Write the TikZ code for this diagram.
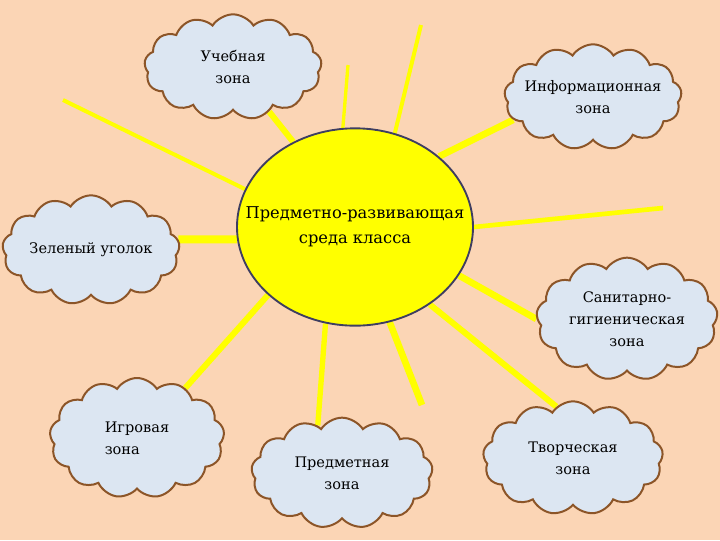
\documentclass[tikz,border=0pt]{standalone}
\usepackage{fontspec}
\setmainfont{DejaVu Serif}
\usetikzlibrary{shapes.geometric, shapes.symbols, backgrounds}

\definecolor{bgpeach}{HTML}{FBD5B5}
\definecolor{cloudfill}{HTML}{DCE6F2}
\definecolor{cloudline}{HTML}{8C5528}
\definecolor{sunline}{HTML}{3E3E60}
\definecolor{rayyellow}{HTML}{FFFF00}

\begin{document}
\begin{tikzpicture}[
    x=0.75pt, y=-0.75pt,
    zone/.style={cloud, cloud puffs=13, cloud puff arc=115, cloud ignores aspect, draw=cloudline, line width=1.5pt, fill=cloudfill, inner sep=-6pt, align=center, font=\fontsize{10.9}{16.5}\selectfont},
    core/.style={ellipse, draw=sunline, line width=1.4pt, fill=rayyellow, minimum width=177pt, minimum height=148pt, inner xsep=-25pt, inner ysep=0pt, align=center, font=\fontsize{12.2}{19}\selectfont},
    ray/.style={draw=rayyellow, line width=#1}
]
    \useasboundingbox (0,0) rectangle (720,540);

    % Centre
    \node[core] (env) at (355,227) {Предметно-развивающая\\среда класса};

    % Zones
    \node[zone, minimum width=133pt, minimum height=79pt] (uch) at (233,67) {Учебная\\зона};
    \node[zone, minimum width=133pt, minimum height=79pt] (info) at (593,97) {Информационная\\зона};
    \node[zone, minimum width=133pt, minimum height=82pt] (green) at (91,250) {Зеленый уголок};
    \node[zone, minimum width=136pt, minimum height=92pt] (sanit) at (627,319) {Санитарно-\\гигиеническая\\зона};
    \node[zone, minimum width=135pt, minimum height=85pt] (tvor) at (573,458) {Творческая\\зона};
    \node[zone, minimum width=136pt, minimum height=83pt] (pred) at (342,473) {Предметная\\зона};
    \node[zone, minimum width=131pt, minimum height=90pt, align=left] (igr) at (137,438) {Игровая\\зона};

    % Free ends of the rays
    \coordinate (e1) at (63,100);
    \coordinate (e3) at (348,65);
    \coordinate (e4) at (421,25);
    \coordinate (e6) at (663,208);
    \coordinate (e9) at (422,405);

    \begin{scope}[on background layer]
        \fill[bgpeach] (0,0) rectangle (720,540);
        % Rays
        \draw[ray=3pt] (env.161) -- (e1);
        \draw[ray=4.5pt] (env.126) -- (uch.-51);
        \draw[ray=2.5pt] (env.97) -- (e3);
        \draw[ray=3pt] (env.67) -- (e4);
        \draw[ray=5pt] (env.40) -- (info.196);
        \draw[ray=3.5pt] (env.0) -- (e6);
        \draw[ray=5pt] (env.-25) -- (sanit.180);
        \draw[ray=4.5pt] (env.-46) -- (tvor.108);
        \draw[ray=5pt] (env.-70) -- (e9);
        \draw[ray=4pt] (env.-107) -- (pred.117);
        \draw[ray=4.5pt] (env.-142) -- (igr.46);
        \draw[ray=6pt] (env.-174) -- (green.7);
    \end{scope}
\end{tikzpicture}
\end{document}
